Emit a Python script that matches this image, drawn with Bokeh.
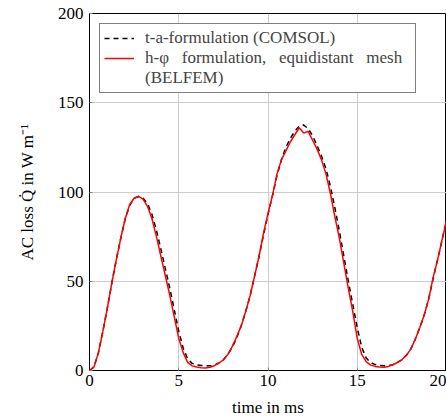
from bokeh.plotting import figure
from bokeh.models import Range1d, FixedTicker, Legend, LegendItem, ColumnDataSource
from bokeh.embed import file_html
from bokeh.resources import INLINE

time_ms = [i * 0.25 for i in range(81)]

comsol = [0, 2, 10, 22, 35, 49, 62, 74, 85, 92.5, 96.5, 97.5, 96.5, 93.5, 87.5, 78.5,
          68, 57, 46, 34, 22, 12.5, 6.5, 4, 3.2, 2.8, 2.6, 2.6, 3.0, 4.3, 6, 9,
          13, 18.5, 25, 33, 42, 53, 64, 76, 87.5, 98, 109, 118, 125, 130, 134, 137,
          137.5, 135.5, 131.5, 126, 120, 113, 103, 91, 78, 64, 50, 37, 24, 13,
          7, 4.5, 3.3, 2.8, 2.6, 2.7, 3.3, 4.5, 6, 8.5, 12, 17.5, 24, 31,
          40, 51.5, 62, 73, 84]

belfem = [0, 2, 10, 22, 35, 49, 62, 74, 85, 93, 96.5, 97.5, 96, 92, 85, 75,
          64, 53, 42, 30, 18, 10, 4.5, 2.6, 2.0, 1.6, 1.4, 1.8, 2.7, 4.2, 6, 9,
          13.5, 19, 25, 33, 42, 53, 64, 77, 88, 98, 110, 118, 123, 128, 132, 136,
          133, 134, 129, 124, 118, 110, 99, 86, 74, 60, 46, 33, 18, 9,
          5, 3, 2.3, 1.9, 1.8, 2.3, 3.2, 4.5, 6, 8.5, 12, 17.5, 24, 31,
          40, 52, 62, 73, 84]

x_ticks = [0, 5, 10, 15, 20]
y_ticks = [0, 50, 100, 150, 200]

label_comsol = "t-a-formulation (COMSOL)"
label_belfem_1 = "h-\u03c6   formulation,   equidistant   mesh  "
label_belfem_2 = "(BELFEM)"

FONT = "'Liberation Serif', serif"

p = figure(width=446, height=419, output_backend="svg", toolbar_location=None,
           x_range=Range1d(0, 20), y_range=Range1d(0, 200),
           min_border_left=89, min_border_right=0, min_border_top=13, min_border_bottom=49)

src = ColumnDataSource(dict(t=time_ms, c=comsol, b=belfem))
r1 = p.line("t", "c", source=src, line_color="black", line_width=1.5, line_dash="5 4")
r2 = p.line("t", "b", source=src, line_color="#ff0000", line_width=1.5)

p.xaxis.ticker = FixedTicker(ticks=x_ticks)
p.yaxis.ticker = FixedTicker(ticks=y_ticks)
p.xaxis.axis_label = "time in ms"
p.yaxis.axis_label = "AC loss Q\u0307 in W m\u207b\u00b9"

for ax in (p.xaxis, p.yaxis):
    ax.axis_line_color = "black"
    ax.major_tick_in = 3
    ax.major_tick_out = 0
    ax.minor_tick_in = 0
    ax.minor_tick_out = 0
    ax.major_tick_line_color = "#888888"
    ax.major_label_text_font = FONT
    ax.major_label_text_font_size = "17px"
    ax.major_label_text_color = "black"
    ax.axis_label_text_font = FONT
    ax.axis_label_text_font_size = "17px"
    ax.axis_label_text_font_style = "normal"
    ax.axis_label_text_color = "black"

p.xaxis.major_label_standoff = 4
p.xaxis.axis_label_standoff = 9
p.yaxis.major_label_standoff = 6
p.yaxis.axis_label_standoff = 18

p.xgrid.grid_line_color = "#cccccc"
p.ygrid.grid_line_color = "#cccccc"
p.outline_line_color = "black"
p.outline_line_width = 1

legend = Legend(items=[LegendItem(label=label_comsol, renderers=[r1]),
                       LegendItem(label=label_belfem_1, renderers=[r2]),
                       LegendItem(label=label_belfem_2, renderers=[])],
                location="top_left", margin=10, padding=4, spacing=-1,
                glyph_width=30, glyph_height=16, label_height=16, label_standoff=11,
                label_text_font=FONT, label_text_font_size="17px",
                border_line_color="black", border_line_width=1,
                background_fill_color="white", background_fill_alpha=1.0)
p.add_layout(legend)

open("out.html", "w").write(file_html(p, INLINE))
